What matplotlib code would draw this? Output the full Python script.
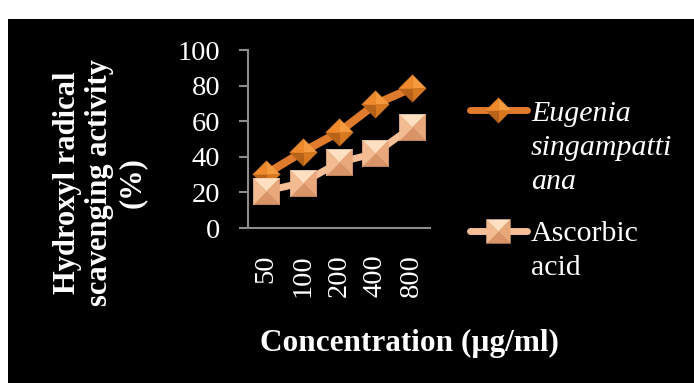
import matplotlib
matplotlib.use("Agg")
import matplotlib.pyplot as plt
from matplotlib.lines import Line2D
from matplotlib.markers import MarkerStyle
from matplotlib.patches import Rectangle
from matplotlib.path import Path

plt.rcParams["font.family"] = ["Liberation Serif", "DejaVu Serif"]

concentrations = ["50", "100", "200", "400", "800"]
eugenia = [30.4, 42.8, 53.9, 69.6, 78.6]
ascorbic = [20.8, 25.5, 36.8, 42.0, 56.8]

W, H = 694, 383
fig = plt.figure(figsize=(W / 100, H / 100), dpi=100)
fig.patch.set_facecolor("white")
# black panel with a white strip left and top
fig.add_artist(Rectangle((8 / W, 0), (W - 8) / W, (H - 19) / H, transform=fig.transFigure,
                         facecolor="black", edgecolor="none", zorder=0))

ax = fig.add_axes([248 / W, 1 - 228 / H, (430 - 248) / W, (228 - 50) / H])
ax.set_facecolor("none")

# bevelled markers: each facet is a triangle from the centre to two corners
sq = [(-1, 1), (1, 1), (1, -1), (-1, -1)]
dm = [(0, 1), (1, 0), (0, -1), (-1, 0)]


def facets(corners):
    out = []
    for i in range(4):
        a, b = corners[i], corners[(i + 1) % 4]
        # the two extra moveto points keep every facet on the same scale
        out.append(Path([(0, 0), a, b, (0, 0), (1, 1), (-1, -1)],
                        [Path.MOVETO, Path.LINETO, Path.LINETO, Path.CLOSEPOLY,
                         Path.MOVETO, Path.MOVETO]))
    return out


sq_paths = facets(sq)
dm_paths = facets(dm)
sq_cols = ["#fde0c2", "#e9a77c", "#d99468", "#f3bb92"]   # top, right, bottom, left
dm_cols = ["#f59a3e", "#d87820", "#b8621a", "#ee8a2c"]   # upper-right, lower-right, lower-left, upper-left


def bevel(target, x, y, paths, cols, ms, **kw):
    for p, c in zip(paths, cols):
        target.plot(x, y, ls="none", marker=MarkerStyle(p), ms=ms, mfc=c, mec=c, mew=0.4, **kw)


xs = list(range(len(concentrations)))
ax.plot(xs, eugenia, color="#e07a2c", lw=5.8, solid_capstyle="butt", zorder=2)
bevel(ax, xs, eugenia, dm_paths, dm_cols, 19.5, zorder=3)
ax.plot(xs, ascorbic, color="#f7bf98", lw=5.0, solid_capstyle="butt", zorder=4)
bevel(ax, xs, ascorbic, sq_paths, sq_cols, 19, zorder=5)

ax.set_xlim(-0.5, len(concentrations) - 0.5)
ax.set_ylim(0, 100)
ax.set_yticks(range(0, 101, 20))
ax.set_xticks(xs)
ax.set_xticklabels(concentrations, rotation=90, va="top")
for s in ["top", "right"]:
    ax.spines[s].set_visible(False)
for s in ["left", "bottom"]:
    ax.spines[s].set_color("#8c8c8c")
    ax.spines[s].set_linewidth(1.5)
ax.tick_params(axis="y", colors="#8c8c8c", length=6.5, width=1.5, pad=13.5, labelcolor="white",
               labelsize=20.5)
ax.tick_params(axis="x", length=0, pad=19, labelcolor="white", labelsize=20.5)

fig.text(409 / W, 1 - 343 / H, "Concentration (µg/ml)", color="white", fontsize=22.5,
         fontweight="bold", ha="center", va="center")
fig.text(100 / W, 1 - 183 / H, "Hydroxyl radical\nscavenging activity\n(%)", color="white",
         fontsize=22, fontweight="bold", rotation=90, ha="center", va="center",
         multialignment="center", linespacing=1.17)


# legend drawn by hand so the key sits on the first text line
def key(y, color, lw, paths, cols, ms):
    yy = 1 - y / H
    fig.add_artist(Line2D([470 / W, 527 / W], [yy, yy], color=color, lw=lw,
                          solid_capstyle="round", transform=fig.transFigure))
    for p, c in zip(paths, cols):
        fig.add_artist(Line2D([498 / W], [yy], ls="none", marker=MarkerStyle(p), ms=ms,
                              mfc=c, mec=c, mew=0.4, transform=fig.transFigure))


key(110, "#e07a2c", 5.0, dm_paths, dm_cols, 18)
key(231, "#f7bf98", 5.0, sq_paths, sq_cols, 17)
fig.text(531 / W, 1 - 101 / H, "Eugenia\nsingampatti\nana", color="white", fontsize=21.5,
         fontstyle="italic", ha="left", va="top", linespacing=1.4)
fig.text(531 / W, 1 - 221 / H, "Ascorbic\nacid", color="white", fontsize=21.5,
         ha="left", va="top", linespacing=1.4)

fig.savefig("out.png", dpi=100, facecolor=fig.get_facecolor())
